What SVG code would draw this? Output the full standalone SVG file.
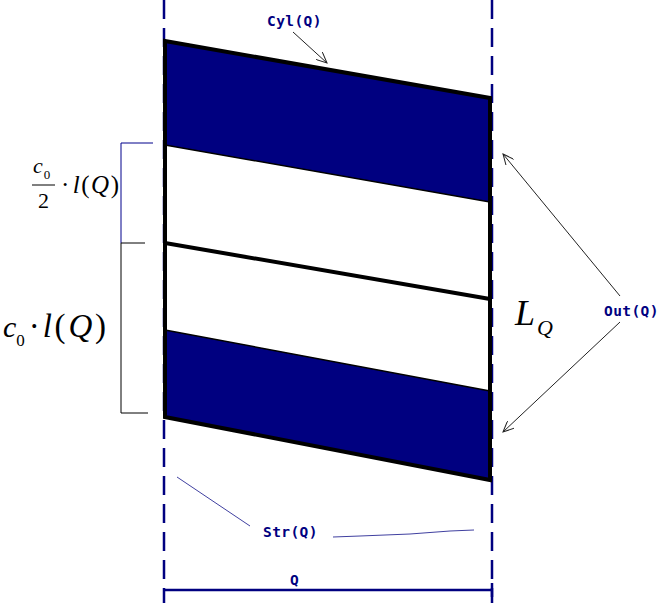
<svg xmlns="http://www.w3.org/2000/svg" width="660" height="603" viewBox="0 0 660 603">
<style>
.dash{stroke:#000080;stroke-width:2.5;stroke-dasharray:19 9;fill:none}
.code{font-family:"DejaVu Sans Mono","Liberation Mono",monospace;font-weight:bold;font-size:14.5px;fill:#000080;letter-spacing:0.4px}
.math{font-family:"Liberation Serif","Times New Roman",serif;fill:#000}
.it{font-style:italic}
.thin{stroke:#000;stroke-width:1;fill:none}
.blue{stroke:#00008b;stroke-width:1;fill:none}
</style>
<defs>
<marker id="open" viewBox="0 0 12 10" refX="11" refY="5" markerWidth="12" markerHeight="10" markerUnits="userSpaceOnUse" orient="auto">
<path d="M0,0 L11,5 L0,10" fill="none" stroke="#222" stroke-width="1"/>
</marker>
</defs>
<rect width="660" height="603" fill="#fff"/>
<g id="guides">
<line class="dash" x1="164" y1="0" x2="164" y2="603"/>
<line class="dash" x1="492" y1="0" x2="492" y2="603"/>
</g>
<g id="cylinder">
<polygon points="165,41 490,98 490,202 165,145" fill="#000080"/>
<polygon points="165,330 490,391 490,480 165,417" fill="#000080"/>
<line x1="165" y1="145" x2="490" y2="202" stroke="#000" stroke-width="1.5"/>
<line x1="165" y1="330" x2="490" y2="391" stroke="#000" stroke-width="1.5"/>
<line x1="165" y1="243" x2="490" y2="299" stroke="#000" stroke-width="4"/>
<polygon points="165,41 490,98 490,480 165,417" fill="none" stroke="#000" stroke-width="4"/>
</g>
<g id="connectors">
<line x1="293" y1="32" x2="327" y2="63" stroke="#222" stroke-width="1" marker-end="url(#open)"/>
<line x1="620" y1="296" x2="503" y2="154" stroke="#222" stroke-width="1" marker-end="url(#open)"/>
<line x1="620" y1="322" x2="503" y2="432" stroke="#222" stroke-width="1" marker-end="url(#open)"/>
<line x1="177" y1="477" x2="250" y2="526" stroke="#4040a0" stroke-width="1"/>
<polyline points="333,537 360,536 410,534 450,531 474,530" stroke="#4040a0" stroke-width="1" fill="none"/>
</g>
<g id="brackets">
<polyline class="blue" points="153,143 121,143 121,243"/>
<polyline class="thin" points="145,243 121,243 121,413 148,413"/>
</g>
<g id="dimension">
<line x1="164" y1="590" x2="492" y2="590" stroke="#000080" stroke-width="2.5"/>
<line x1="492" y1="583" x2="492" y2="597" stroke="#000080" stroke-width="2.5"/>
</g>
<g id="labels">
<text class="code" x="267" y="26">Cyl(Q)</text>
<text class="code" x="604" y="316">Out(Q)</text>
<text class="code" x="263" y="537">Str(Q)</text>
<text class="code" x="290" y="585">Q</text>
</g>
<g id="formula-half">
<text class="math" x="33" y="173" font-size="22"><tspan class="it">c</tspan><tspan font-size="13" dx="1" dy="6">0</tspan></text>
<line x1="32" y1="185" x2="55" y2="185" stroke="#000" stroke-width="1"/>
<text class="math" x="38" y="208" font-size="22">2</text>
<text class="math" x="61" y="193" font-size="25" letter-spacing="1.5">·<tspan class="it" dx="2">l</tspan>(<tspan class="it">Q</tspan>)</text>
</g>
<g id="formula-full">
<text class="math" x="3" y="337" font-size="30"><tspan class="it">c</tspan><tspan font-size="17" dy="9">0</tspan><tspan font-size="33" dx="4" dy="-9" letter-spacing="2.8">·</tspan><tspan class="it" font-size="33" letter-spacing="2.8">l</tspan><tspan font-size="33" letter-spacing="2.8">(</tspan><tspan class="it" font-size="33" letter-spacing="2.8">Q</tspan><tspan font-size="33">)</tspan></text>
</g>
<g id="LQ">
<text class="math it" x="515" y="325" font-size="36">L</text>
<text class="math it" x="537" y="335" font-size="22">Q</text>
</g>
</svg>
